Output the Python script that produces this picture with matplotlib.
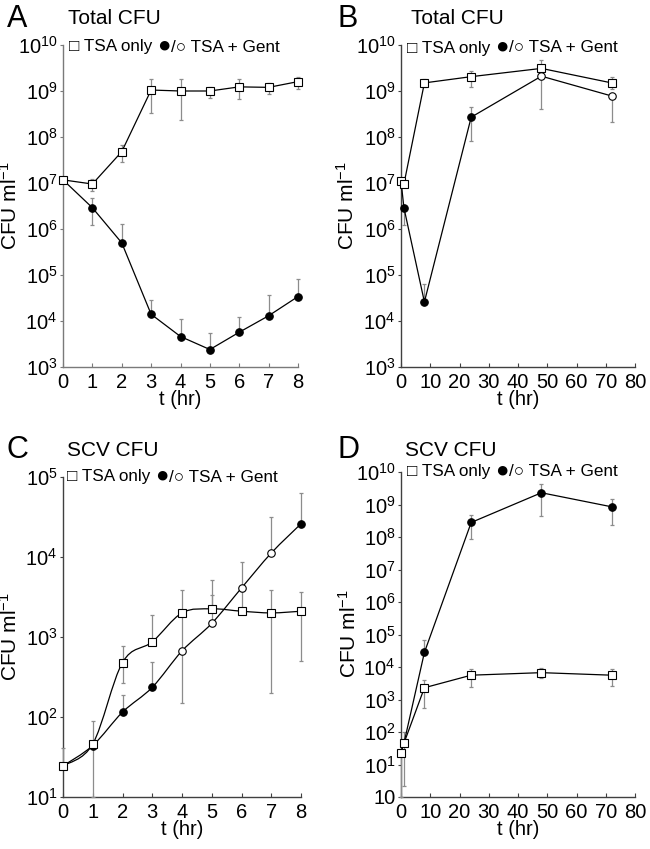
import numpy as np
import matplotlib
matplotlib.use("Agg")
import matplotlib.pyplot as plt
from matplotlib.path import Path
from matplotlib.patches import PathPatch
from matplotlib.ticker import FixedLocator, FixedFormatter
from matplotlib.offsetbox import TextArea, HPacker, AnchoredOffsetbox

plt.rcParams['font.family'] = ['Liberation Sans', 'DejaVu Sans']
plt.rcParams['mathtext.fontset'] = 'custom'
plt.rcParams['mathtext.rm'] = 'Liberation Sans'
plt.rcParams['mathtext.it'] = 'Liberation Sans'
plt.rcParams['mathtext.default'] = 'regular'

nan = np.nan

# ---------------- Data ----------------
# Panel A: Total CFU, 0-8 h
tA = [0, 1, 2, 3, 4, 5, 6, 7, 8]
A_tsa = [1.17e7, 9.5e6, 4.8e7, 1.05e9, 1.0e9, 1.0e9, 1.23e9, 1.2e9, 1.6e9]
A_tsa_hi = [1.25e7, 1.2e7, 6.7e7, 1.8e9, 1.8e9, 1.2e9, 1.8e9, 1.5e9, 2.05e9]
A_tsa_lo = [1.1e7, 6.8e6, 2.9e7, 3.4e8, 2.3e8, 7.1e8, 6.7e8, 8.5e8, 1.1e9]
A_gent = [1.17e7, 2.9e6, 5.0e5, 1.4e4, 4.6e3, 2.4e3, 5.7e3, 1.3e4, 3.4e4]
A_gent_hi = [nan, 4.8e6, 1.3e6, 2.9e4, 1.1e4, 5.4e3, 1.2e4, 3.7e4, 8.0e4]
A_gent_lo = [nan, 1.2e6, nan, nan, nan, nan, nan, nan, nan]
A_gent_filled = [1, 1, 1, 1, 1, 1, 1, 1, 1]

# Panel B: Total CFU, 0-72 h
tB = [0, 1, 8, 24, 48, 72]
B_tsa = [1.1e7, 9.5e6, 1.5e9, 2.05e9, 3.1e9, 1.5e9]
B_tsa_hi = [nan, nan, 1.85e9, 2.7e9, 4.7e9, 2.05e9]
B_tsa_lo = [nan, nan, 1.2e9, 1.2e9, nan, 1.1e9]
B_gent = [1.1e7, 2.9e6, 2.6e4, 2.7e8, 2.1e9, 7.8e8]
B_gent_hi = [nan, nan, 6.3e4, 4.5e8, nan, nan]
B_gent_lo = [nan, 1.2e6, nan, 8.0e7, 4.0e8, 2.1e8]
B_gent_filled = [1, 1, 1, 1, 0, 0]

# Panel C: SCV CFU, 0-8 h
tC = [0, 1, 2, 3, 4, 5, 6, 7, 8]
C_tsa = [24.5, 46, 480, 870, 2000, 2250, 2100, 2000, 2100]
C_tsa_hi = [41, 89, 770, 1880, 3870, 5200, 3800, 3870, 3700]
C_tsa_lo = [nan, 10, 265, nan, 148, nan, nan, 200, 500]
C_gent = [24.5, 44, 115, 235, 670, 1480, 4100, 11200, 26000]
C_gent_hi = [nan, nan, 190, 490, nan, 3350, 8700, 32000, 63000]
C_gent_lo = [nan, nan, nan, nan, nan, nan, nan, nan, nan]
C_gent_filled = [1, 1, 1, 1, 0, 0, 0, 0, 1]

# Panel D: SCV CFU, 0-72 h
tD = [0, 1, 8, 24, 48, 72]
D_tsa = [23, 45, 2300, 5600, 6700, 5600]
D_tsa_hi = [nan, 100, 4000, 8500, 9300, 8700]
D_tsa_lo = [1, 2.2, 540, 2460, 4500, 2600]
D_gent = [23, 45, 28000, 2.8e8, 2.3e9, 8.5e8]
D_gent_hi = [nan, nan, 68000, 4.8e8, 4.2e9, 1.5e9]
D_gent_lo = [nan, nan, nan, 8.5e7, 4.4e8, 2.3e8]
D_gent_filled = [1, 1, 1, 1, 1, 1]

xticks_short = [0, 1, 2, 3, 4, 5, 6, 7, 8]
xticks_long = [0, 10, 20, 30, 40, 50, 60, 70, 80]
exp_AB = [3, 4, 5, 6, 7, 8, 9, 10]
exp_C = [1, 2, 3, 4, 5]
exp_D = [0, 1, 2, 3, 4, 5, 6, 7, 8, 9, 10]

legend_parts = ["\u25a1 TSA only ", "\u25cf", "/\u25cb TSA + Gent"]

# ---------------- Figure ----------------
W, H = 650, 849
fig = plt.figure(figsize=(W / 100, H / 100), dpi=100)


def px_axes(l, r, t, b):
    return fig.add_axes([l / W, 1 - b / H, (r - l) / W, (b - t) / H])


ERR_C = '#8c8c8c'


def _noclip(cont):
    for ch in cont.get_children():
        ch.set_clip_on(False)


def errbars(ax, x, y, hi, lo):
    x = np.asarray(x, float)
    y = np.asarray(y, float)
    hi = np.asarray(hi, float)
    lo = np.asarray(lo, float)
    m = ~np.isnan(hi)
    if m.any():
        c = ax.errorbar(x[m], y[m], yerr=[np.zeros(m.sum()), hi[m] - y[m]], fmt='none',
                        ecolor=ERR_C, elinewidth=0.9, capsize=1.6, capthick=0.9, zorder=2)
        _noclip(c)
    m = ~np.isnan(lo)
    if m.any():
        c = ax.errorbar(x[m], y[m], yerr=[y[m] - lo[m], np.zeros(m.sum())], fmt='none',
                        ecolor=ERR_C, elinewidth=0.9, capsize=1.6, capthick=0.9, zorder=2)
        _noclip(c)


def smooth_line(ax, x, y, z):
    lx = np.asarray(x, float)
    ly = np.log10(np.asarray(y, float))
    n = len(lx)
    verts = [(lx[0], ly[0])]
    codes = [Path.MOVETO]
    for i in range(n - 1):
        p0 = i - 1 if i > 0 else i
        p3 = i + 2 if i + 2 < n else i + 1
        c1 = (lx[i] + (lx[i + 1] - lx[p0]) / 6, ly[i] + (ly[i + 1] - ly[p0]) / 6)
        c2 = (lx[i + 1] - (lx[p3] - lx[i]) / 6, ly[i + 1] - (ly[p3] - ly[i]) / 6)
        verts += [c1, c2, (lx[i + 1], ly[i + 1])]
        codes += [Path.CURVE4] * 3
    verts = np.array(verts)
    verts[:, 1] = 10 ** verts[:, 1]
    ax.add_patch(PathPatch(Path(verts, codes), fill=False, edgecolor='black', lw=0.9,
                           zorder=z, clip_on=False))


def series(ax, x, y, hi, lo, marker, filled=None, smooth=False, z=3):
    errbars(ax, x, y, hi, lo)
    if smooth:
        smooth_line(ax, x, y, z)
    else:
        ax.plot(x, y, color='black', lw=0.9, zorder=z, clip_on=False)
    x = np.asarray(x, float)
    y = np.asarray(y, float)
    if filled is None:
        ax.plot(x, y, ls='none', marker=marker, ms=5.2, mfc='white', mec='black', mew=0.8,
                zorder=z + 0.5, clip_on=False)
    else:
        f = np.asarray(filled, bool)
        ax.plot(x[f], y[f], ls='none', marker=marker, ms=5.4, mfc='black', mec='black', mew=0.8,
                zorder=z + 0.5, clip_on=False)
        ax.plot(x[~f], y[~f], ls='none', marker=marker, ms=5.4, mfc='white', mec='black', mew=0.8,
                zorder=z + 0.5, clip_on=False)


def style(ax, xlim, xticks, exps, spine_c, bare_zero=False):
    ax.set_yscale('log')
    ax.set_xlim(*xlim)
    ax.set_ylim(10.0 ** exps[0], 10.0 ** exps[-1])
    for s in ['top', 'right']:
        ax.spines[s].set_visible(False)
    for s in ['left', 'bottom']:
        ax.spines[s].set_color(spine_c)
        ax.spines[s].set_linewidth(1.0)
        ax.spines[s].set_zorder(1)
    ax.set_xticks(xticks)
    ax.set_xticklabels([str(v) for v in xticks])
    ax.yaxis.set_major_locator(FixedLocator([10.0 ** e for e in exps]))
    labs = []
    for e in exps:
        if bare_zero and e == 0:
            labs.append('10')
        else:
            labs.append(r'$10^{%d}$' % e)
    ax.yaxis.set_major_formatter(FixedFormatter(labs))
    ax.yaxis.set_minor_locator(FixedLocator([]))
    ax.tick_params(axis='x', direction='in', length=3, width=0.8, color=spine_c,
                   labelsize=14.5, pad=4)
    ax.tick_params(axis='y', direction='out', length=2, width=0.8, color=spine_c,
                   labelsize=14.5, pad=2)
    ax.set_xlabel('t (hr)', fontsize=14.5, labelpad=-1)
    ax.patch.set_alpha(0)


# Panel A
axA = px_axes(63, 298, 45, 367)
series(axA, tA, A_gent, A_gent_hi, A_gent_lo, 'o', filled=A_gent_filled, z=3)
series(axA, tA, A_tsa, A_tsa_hi, A_tsa_lo, 's', z=4)
style(axA, (0, 8), xticks_short, exp_AB, '#7a7a7a')

# Panel B
axB = px_axes(401, 635, 45, 367)
series(axB, tB, B_gent, B_gent_hi, B_gent_lo, 'o', filled=B_gent_filled, z=3)
series(axB, tB, B_tsa, B_tsa_hi, B_tsa_lo, 's', z=4)
style(axB, (0, 80), xticks_long, exp_AB, '#404040')

# Panel C
axC = px_axes(63, 301, 477, 797)
series(axC, tC, C_gent, C_gent_hi, C_gent_lo, 'o', filled=C_gent_filled, smooth=True, z=3)
series(axC, tC, C_tsa, C_tsa_hi, C_tsa_lo, 's', smooth=True, z=4)
style(axC, (0, 8), xticks_short, exp_C, '#404040')

# Panel D
axD = px_axes(401, 635, 472, 797)
series(axD, tD, D_gent, D_gent_hi, D_gent_lo, 'o', filled=D_gent_filled, z=3)
series(axD, tD, D_tsa, D_tsa_hi, D_tsa_lo, 's', z=4)
style(axD, (0, 80), xticks_long, exp_D, '#404040', bare_zero=True)


# Titles, panel letters, legends, y labels
def fx(p):
    return p / W


def fy(p):
    return 1 - p / H


def legend_box(xp, yp):
    fam = ['Liberation Sans', 'DejaVu Sans']
    areas = [TextArea(legend_parts[0], textprops=dict(fontsize=12.3, family=fam)),
             TextArea(legend_parts[1], textprops=dict(fontsize=16, family=fam)),
             TextArea(legend_parts[2], textprops=dict(fontsize=12.3, family=fam))]
    box = HPacker(children=areas, align='baseline', pad=0, sep=0)
    ab = AnchoredOffsetbox(loc='center left', child=box, pad=0, borderpad=0, frameon=False,
                           bbox_to_anchor=(fx(xp), fy(yp)), bbox_transform=fig.transFigure)
    fig.add_artist(ab)


for letter, lx, ttl, tx, ty, legx, legy, ylx, ycen in [
        ('A', 7, 'Total CFU', 68, 19, 69, 46, 10, 206),
        ('B', 337, 'Total CFU', 411, 19, 407, 47, 347, 206),
        ('C', 7, 'SCV CFU', 67, 450, 67, 476, 10, 637),
        ('D', 337, 'SCV CFU', 405, 450, 407, 471, 349, 634)]:
    fig.text(fx(lx), fy(ty), letter, fontsize=22, va='center', ha='left')
    fig.text(fx(tx), fy(ty), ttl, fontsize=15, va='center', ha='left')
    legend_box(legx, legy)
    fig.text(fx(ylx), fy(ycen), r'CFU ml$^{-1}$', fontsize=15, rotation=90,
             va='center', ha='center')

fig.savefig('out.png', dpi=100)
